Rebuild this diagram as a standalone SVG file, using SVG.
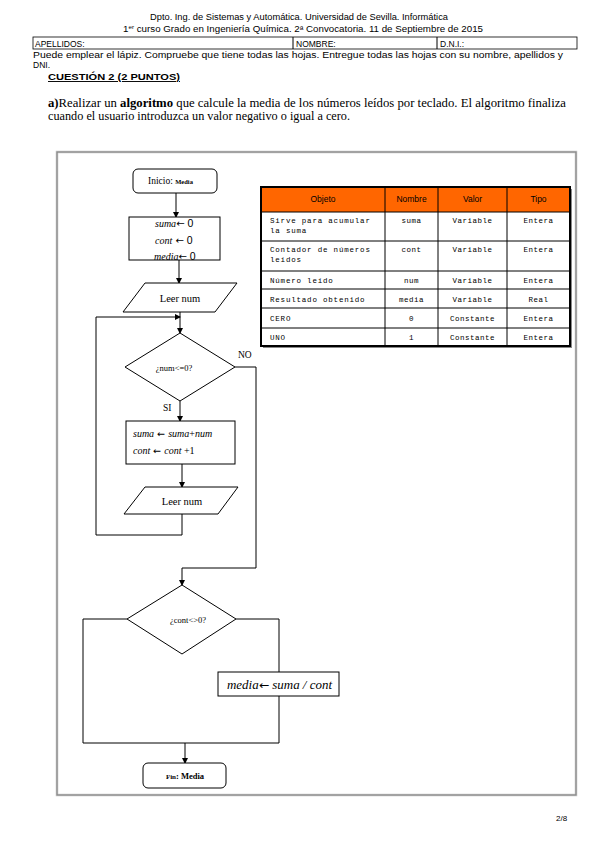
<svg xmlns="http://www.w3.org/2000/svg" width="599" height="848" viewBox="0 0 599 848">
<style>
.sans{font-family:"Liberation Sans",Arial,sans-serif;fill:#000}
.serif{font-family:"Liberation Serif","Times New Roman",serif;fill:#000}
.mono{font-family:"Liberation Mono","Courier New",monospace;fill:#000}
.arr{font-family:"DejaVu Sans",sans-serif;font-style:normal}
.it{font-style:italic}
.b{font-weight:bold}
.ln{fill:none;stroke:#000;stroke-width:1}
.shape{fill:#fff;stroke:#000;stroke-width:1}
.tl{stroke:#000;stroke-width:1}
</style>
<defs>
<marker id="ah" markerWidth="6" markerHeight="6" refX="5" refY="3" orient="auto" markerUnits="userSpaceOnUse">
<path d="M0,0 L6,3 L0,6 Z" fill="#000"/>
</marker>
</defs>
<rect width="599" height="848" fill="#fff"/>

<g id="header">
<text class="sans" x="299" y="20" font-size="8.5" text-anchor="middle" textLength="298" lengthAdjust="spacingAndGlyphs">Dpto. Ing. de Sistemas y Automática. Universidad de Sevilla. Informática</text>
<text class="sans" x="303" y="32" font-size="8.5" text-anchor="middle" textLength="360" lengthAdjust="spacingAndGlyphs">1<tspan font-size="5.5" dy="-3">er</tspan><tspan dy="3"> curso Grado en Ingeniería Química. 2ª Convocatoria. 11 de Septiembre de 2015</tspan></text>
<rect x="33" y="37" width="544" height="12" fill="none" stroke="#000" stroke-width="0.8"/>
<line x1="293" y1="37" x2="293" y2="49" class="tl" stroke-width="0.8"/>
<line x1="437" y1="37" x2="437" y2="49" class="tl" stroke-width="0.8"/>
<text class="sans" x="35" y="46.5" font-size="8.5">APELLIDOS:</text>
<text class="sans" x="296" y="46.5" font-size="8.5">NOMBRE:</text>
<text class="sans" x="440" y="46.5" font-size="8.5">D.N.I.:</text>
<text class="sans" x="33" y="58" font-size="8.5" textLength="530" lengthAdjust="spacingAndGlyphs">Puede emplear el lápiz. Compruebe que tiene todas las hojas. Entregue todas las hojas con su nombre, apellidos y</text>
<text class="sans" x="33" y="68" font-size="8.5">DNI.</text>
<text class="sans b" x="48" y="80" font-size="9.5" text-decoration="underline" textLength="132" lengthAdjust="spacingAndGlyphs">CUESTIÓN 2 (2 PUNTOS)</text>
<text class="serif" x="48" y="107" font-size="12" textLength="518" lengthAdjust="spacingAndGlyphs"><tspan font-weight="bold">a)</tspan>Realizar un <tspan font-weight="bold">algoritmo</tspan> que calcule la media de los números leídos por teclado. El algoritmo finaliza</text>
<text class="serif" x="48" y="120" font-size="12" textLength="302" lengthAdjust="spacingAndGlyphs">cuando el usuario introduzca un valor negativo o igual a cero.</text>
</g>

<g id="frame">
<rect x="57" y="152" width="519" height="643" fill="none" stroke="#c4c4c4" stroke-width="2.5"/>
<rect x="57" y="152" width="519" height="643" fill="none" stroke="#808080" stroke-width="1"/>
</g>

<g id="table">
<rect x="263" y="189" width="309" height="159" fill="#888"/>
<rect x="261" y="187" width="309" height="159" fill="#fff"/>
<rect x="261" y="187" width="309" height="25" fill="#ff6600"/>
<g class="tl">
<line x1="261" y1="212" x2="570" y2="212"/>
<line x1="261" y1="241" x2="570" y2="241"/>
<line x1="261" y1="271" x2="570" y2="271"/>
<line x1="261" y1="289" x2="570" y2="289"/>
<line x1="261" y1="308" x2="570" y2="308"/>
<line x1="261" y1="328" x2="570" y2="328"/>
<line x1="385" y1="187" x2="385" y2="346"/>
<line x1="438" y1="187" x2="438" y2="346"/>
<line x1="507" y1="187" x2="507" y2="346"/>
</g>
<rect x="261" y="187" width="309" height="159" fill="none" stroke="#000" stroke-width="2"/>
<g class="sans" font-size="8.5" text-anchor="middle">
<text x="323" y="202">Objeto</text>
<text x="411.5" y="202">Nombre</text>
<text x="472.5" y="202">Valor</text>
<text x="538.5" y="202">Tipo</text>
</g>
<g class="mono" font-size="7.5" letter-spacing="0.8">
<text x="270" y="223">Sirve para acumular</text>
<text x="270" y="233">la suma</text>
<text x="270" y="252">Contador de números</text>
<text x="270" y="262">leídos</text>
<text x="270" y="283">Número leído</text>
<text x="270" y="302">Resultado obtenido</text>
<text x="270" y="321">CERO</text>
<text x="270" y="340">UNO</text>
</g>
<g class="mono" font-size="7.5" letter-spacing="0.5" text-anchor="middle">
<text x="411.5" y="223">suma</text>
<text x="411.5" y="252">cont</text>
<text x="411.5" y="283">num</text>
<text x="411.5" y="302">media</text>
<text x="411.5" y="321">0</text>
<text x="411.5" y="340">1</text>
<text x="472.5" y="223">Variable</text>
<text x="472.5" y="252">Variable</text>
<text x="472.5" y="283">Variable</text>
<text x="472.5" y="302">Variable</text>
<text x="472.5" y="321">Constante</text>
<text x="472.5" y="340">Constante</text>
<text x="538.5" y="223">Entera</text>
<text x="538.5" y="252">Entera</text>
<text x="538.5" y="283">Entera</text>
<text x="538.5" y="302">Real</text>
<text x="538.5" y="321">Entera</text>
<text x="538.5" y="340">Entera</text>
</g>
</g>

<g id="connectors">
<line class="ln" x1="176" y1="193" x2="176" y2="217" marker-end="url(#ah)"/>
<line class="ln" x1="179" y1="260" x2="179" y2="283" marker-end="url(#ah)"/>
<line class="ln" x1="180" y1="312" x2="180" y2="317"/>
<line class="ln" x1="180" y1="317" x2="180" y2="333" marker-end="url(#ah)"/>
<polyline class="ln" points="182,514 182,535 96,535 96,317 180,317" marker-end="url(#ah)"/>
<line class="ln" x1="180" y1="401" x2="180" y2="421" marker-end="url(#ah)"/>
<line class="ln" x1="182" y1="464" x2="182" y2="487" marker-end="url(#ah)"/>
<polyline class="ln" points="235,367 256,367 256,568 182,568 182,585" marker-end="url(#ah)"/>
<polyline class="ln" points="127,619 83,619 83,743 279,743"/>
<polyline class="ln" points="236,619 279,619 279,672"/>
<line class="ln" x1="279" y1="696" x2="279" y2="743"/>
<line class="ln" x1="185" y1="743" x2="185" y2="763" marker-end="url(#ah)"/>
</g>

<g id="inicio">
<rect class="shape" x="133" y="169" width="84" height="24" rx="5" stroke-width="1.3"/>
<text class="serif" x="148" y="184" font-size="9.5">Inicio: <tspan class="b" font-size="6.5">Media</tspan></text>
</g>

<g id="init">
<rect class="shape" x="129" y="217" width="91" height="43"/>
<text class="serif" x="155" y="227" font-size="10"><tspan class="it">suma</tspan><tspan class="arr" font-size="10">←</tspan><tspan class="sans" font-size="10.5"> 0</tspan></text>
<text class="serif" x="155" y="244" font-size="10"><tspan class="it">cont</tspan><tspan class="arr" font-size="10"> ←</tspan><tspan class="sans" font-size="10.5"> 0</tspan></text>
<text class="serif" x="154" y="260" font-size="10"><tspan class="it">media</tspan><tspan class="arr" font-size="10">←</tspan><tspan class="sans" font-size="10.5"> 0</tspan></text>
</g>

<g id="leer1">
<polygon class="shape" points="145,283 237,283 215,312 123,312"/>
<text class="serif" x="180" y="302" font-size="10.5" text-anchor="middle">Leer num</text>
</g>

<g id="dec1">
<polygon class="shape" points="180,333 235,367 180,401 125,367"/>
<text class="serif" x="174" y="371" font-size="8.5" text-anchor="middle">¿num&lt;=0?</text>
</g>
<text class="serif" x="238" y="358" font-size="9.5">NO</text>
<text class="serif" x="163" y="411" font-size="9.5">SI</text>

<g id="acum">
<rect class="shape" x="126" y="421" width="109" height="43"/>
<text class="serif it" x="133" y="437" font-size="10"><tspan>suma</tspan><tspan class="arr" font-size="9.5"> ← </tspan><tspan>suma</tspan><tspan font-style="normal">+</tspan><tspan>num</tspan></text>
<text class="serif it" x="133" y="454" font-size="10"><tspan>cont</tspan><tspan class="arr" font-size="9.5"> ← </tspan><tspan>cont</tspan><tspan font-style="normal"> +1</tspan></text>
</g>

<g id="leer2">
<polygon class="shape" points="145,487 238,487 218,514 124,514"/>
<text class="serif" x="182" y="505" font-size="10.5" text-anchor="middle">Leer num</text>
</g>

<g id="dec2">
<polygon class="shape" points="182,585 236,619 182,654 127,619"/>
<text class="serif" x="188" y="623" font-size="8.5" text-anchor="middle">¿cont&lt;&gt;0?</text>
</g>

<g id="calc">
<rect class="shape" x="218" y="672" width="121" height="24"/>
<text class="serif it" x="227" y="689" font-size="11.5" textLength="105" lengthAdjust="spacingAndGlyphs">media<tspan class="arr" font-size="11">←</tspan> suma / cont</text>
</g>

<g id="fin">
<rect class="shape" x="143" y="763" width="83" height="25" rx="5" stroke-width="1.3"/>
<text class="serif b" x="185" y="779" font-size="8.5" text-anchor="middle"><tspan font-size="7">Fin</tspan>: Media</text>
</g>

<text class="sans" x="556" y="821" font-size="8">2/8</text>
</svg>
